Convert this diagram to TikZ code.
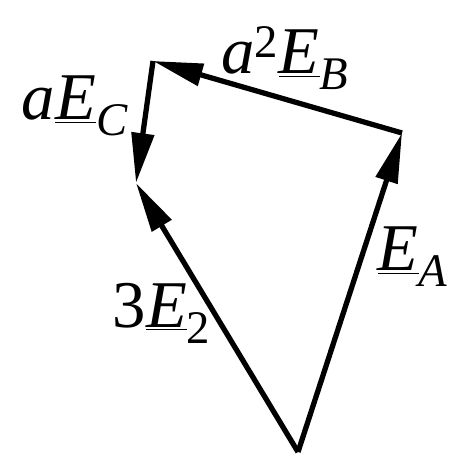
\documentclass[tikz,border=0pt]{standalone}
\usepackage{fontspec}
\setmainfont{Liberation Serif}
\usetikzlibrary{arrows.meta}
\tikzset{vec/.style={-{Triangle[length=1cm,width=0.44cm]},line width=3pt},
  lbl/.style={font=\fontsize{38}{40}\selectfont\itshape,inner sep=0pt}}

\begin{document}
\begin{tikzpicture}
  \useasboundingbox (0,0) rectangle (9.28,9.24);
  \coordinate (O) at (5.96,0.20);
  \coordinate (R) at (8.04,6.58);
  \coordinate (T) at (3.06,8.02);
  \coordinate (L) at (2.72,5.58);
  \draw[vec] (O) -- (R);
  \draw[vec] (R) -- (T);
  \draw[vec] (T) -- (L);
  \draw[vec] (O) -- (L);
  \node[lbl] (lA) at (8.26,4.10) {\underline{E}\textsubscript{A}};
  \node[lbl] (lB) at (5.70,8.08) {a\textsuperscript{\upshape 2}\underline{E}\textsubscript{B}};
  \node[lbl] (lC) at (1.50,7.12) {a\underline{E}\textsubscript{C}};
  \node[lbl] (l2) at (3.24,2.98) {{\upshape 3}\underline{E}\textsubscript{\upshape 2}};
\end{tikzpicture}
\end{document}
